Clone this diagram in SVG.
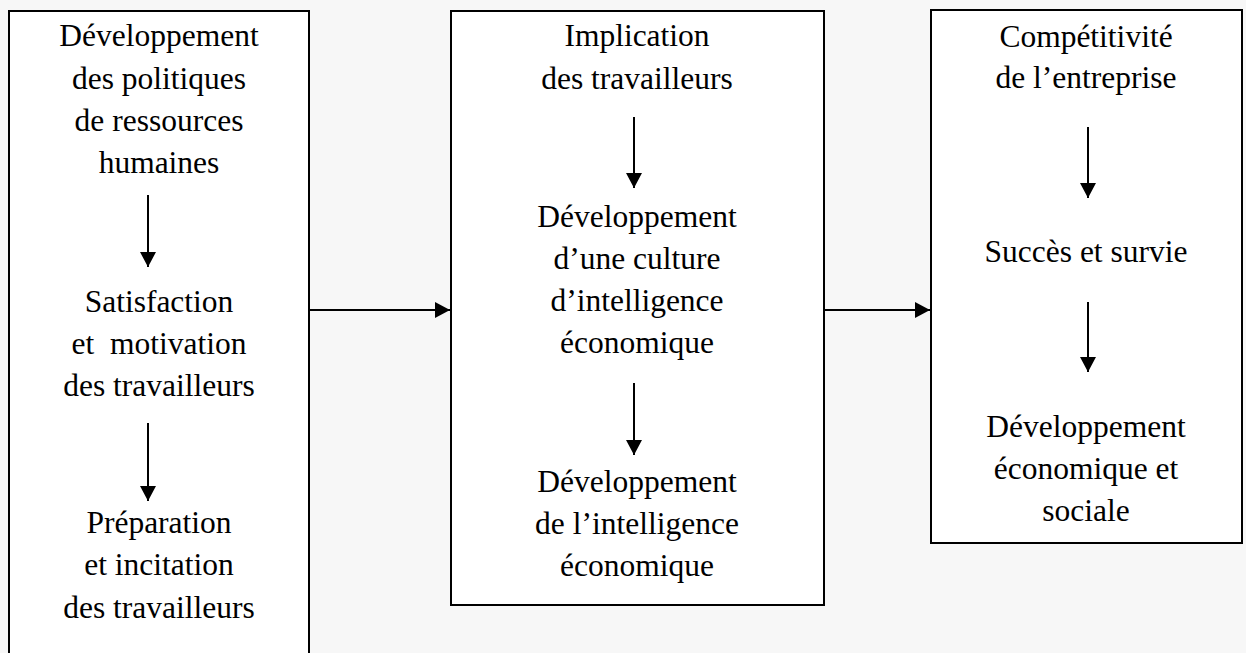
<svg xmlns="http://www.w3.org/2000/svg" width="1246" height="653" viewBox="0 0 1246 653">
<style>
.box{fill:#ffffff;stroke:#000;stroke-width:2}
.t{font-family:"Liberation Serif","Times New Roman",serif;font-size:31.5px;fill:#000;text-anchor:middle}
.c{stroke:#000;stroke-width:2;fill:none;marker-end:url(#ah)}
</style>
<defs>
<marker id="ah" markerUnits="userSpaceOnUse" markerWidth="16" markerHeight="16" refX="15" refY="8" orient="auto" viewBox="0 0 16 16">
<path d="M0,0 L15,8 L0,16 z" fill="#000"/>
</marker>
</defs>
<rect x="0" y="0" width="1246" height="653" fill="#f7f7f7"/>
<g id="node-rh">
<rect class="box" x="9" y="11" width="300" height="660"/>
<text class="t" x="159" y="46">Développement</text>
<text class="t" x="159" y="89">des politiques</text>
<text class="t" x="159" y="131">de ressources</text>
<text class="t" x="159" y="173">humaines</text>
<text class="t" x="159" y="312">Satisfaction</text>
<text class="t" x="159" y="354">et&#160; motivation</text>
<text class="t" x="159" y="396">des travailleurs</text>
<text class="t" x="159" y="533">Préparation</text>
<text class="t" x="159" y="575">et incitation</text>
<text class="t" x="159" y="618">des travailleurs</text>
</g>
<g id="node-implication">
<rect class="box" x="451" y="11" width="373" height="594"/>
<text class="t" x="637" y="46">Implication</text>
<text class="t" x="637" y="89">des travailleurs</text>
<text class="t" x="637" y="227">Développement</text>
<text class="t" x="637" y="269">d’une culture</text>
<text class="t" x="637" y="311">d’intelligence</text>
<text class="t" x="637" y="353">économique</text>
<text class="t" x="637" y="492">Développement</text>
<text class="t" x="637" y="534">de l’intelligence</text>
<text class="t" x="637" y="576">économique</text>
</g>
<g id="node-competitivite">
<rect class="box" x="931" y="10" width="311" height="533"/>
<text class="t" x="1086" y="47">Compétitivité</text>
<text class="t" x="1086" y="88">de l’entreprise</text>
<text class="t" x="1086" y="262">Succès et survie</text>
<text class="t" x="1086" y="437">Développement</text>
<text class="t" x="1086" y="479">économique et</text>
<text class="t" x="1086" y="521">sociale</text>
</g>
<g id="connectors">
<line class="c" x1="148" y1="195" x2="148" y2="267"/>
<line class="c" x1="148" y1="423" x2="148" y2="501"/>
<line class="c" x1="634" y1="117" x2="634" y2="188"/>
<line class="c" x1="634" y1="383" x2="634" y2="455"/>
<line class="c" x1="1088" y1="127" x2="1088" y2="198"/>
<line class="c" x1="1088" y1="302" x2="1088" y2="372"/>
<line class="c" x1="309" y1="310" x2="450" y2="310"/>
<line class="c" x1="824" y1="310" x2="930" y2="310"/>
</g>
</svg>
